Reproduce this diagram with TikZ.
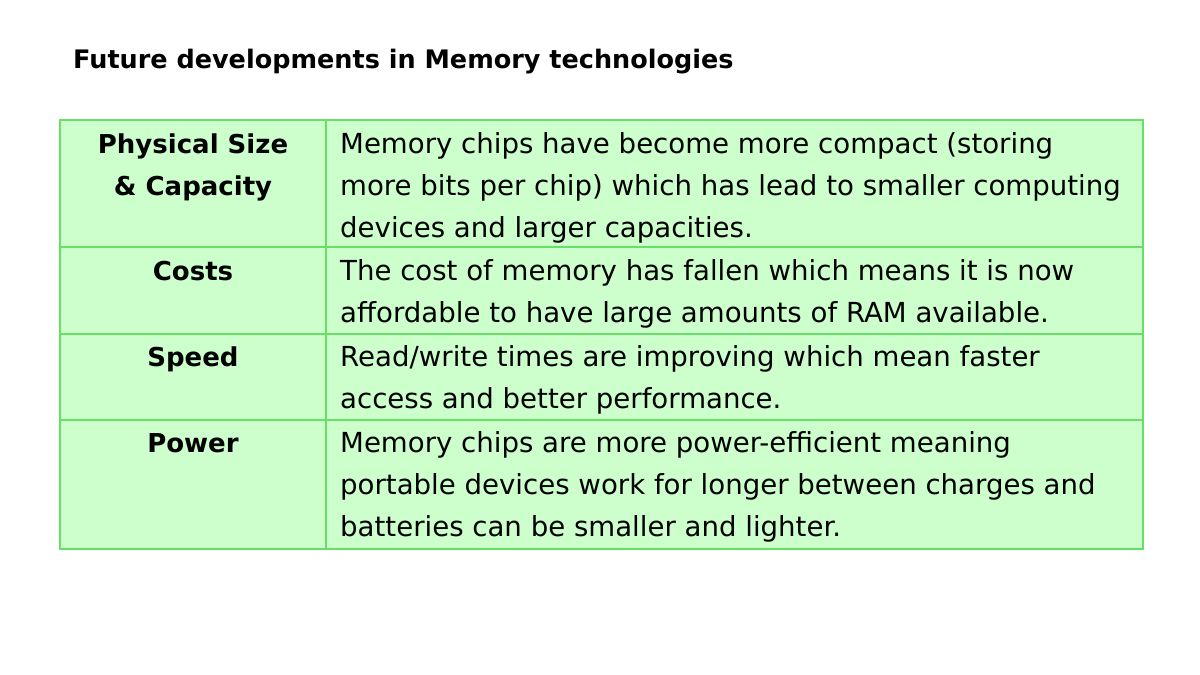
\documentclass[tikz,border=0pt]{standalone}
\usepackage{fontspec}
\setmainfont{DejaVu Sans}
\definecolor{cellfill}{HTML}{CCFFCC}
\definecolor{cellline}{HTML}{66E066}
\begin{document}
\begin{tikzpicture}[x=1pt,y=-1pt,
  body/.style={anchor=base west,inner sep=0,font=\fontsize{27.6}{30}\selectfont},
  head/.style={anchor=base,inner sep=0,font=\fontsize{26}{30}\selectfont\bfseries},
  cell/.style={fill=cellfill,draw=cellline,line width=1.5pt}]
\useasboundingbox (0,0) rectangle (1200,675);
\node[anchor=base west,inner sep=0,font=\fontsize{25.5}{30}\selectfont\bfseries] (title) at (73,68) {Future developments in Memory technologies};
\foreach \a/\b [count=\i] in {120/247,247/334,334/420,420/549}{
  \draw[cell] (60,\a) rectangle (326,\b);
  \draw[cell] (326,\a) rectangle (1143,\b);
}
\node[head] (h1a) at (193,153) {Physical Size};
\node[head] (h1b) at (193,195) {\& Capacity};
\node[head] (h2) at (193,280) {Costs};
\node[head] (h3) at (193,366) {Speed};
\node[head] (h4) at (193,452) {Power};
\node[body] (r1a) at (340,153) {Memory chips have become more compact (storing};
\node[body] (r1b) at (340,195) {more bits per chip) which has lead to smaller computing};
\node[body] (r1c) at (340,237) {devices and larger capacities.};
\node[body] (r2a) at (340,280) {The cost of memory has fallen which means it is now};
\node[body] (r2b) at (340,322) {affordable to have large amounts of RAM available.};
\node[body] (r3a) at (340,366) {Read/write times are improving which mean faster};
\node[body] (r3b) at (340,408) {access and better performance.};
\node[body] (r4a) at (340,452) {Memory chips are more power-efficient meaning};
\node[body] (r4b) at (340,494) {portable devices work for longer between charges and};
\node[body] (r4c) at (340,536) {batteries can be smaller and lighter.};
\end{tikzpicture}
\end{document}
